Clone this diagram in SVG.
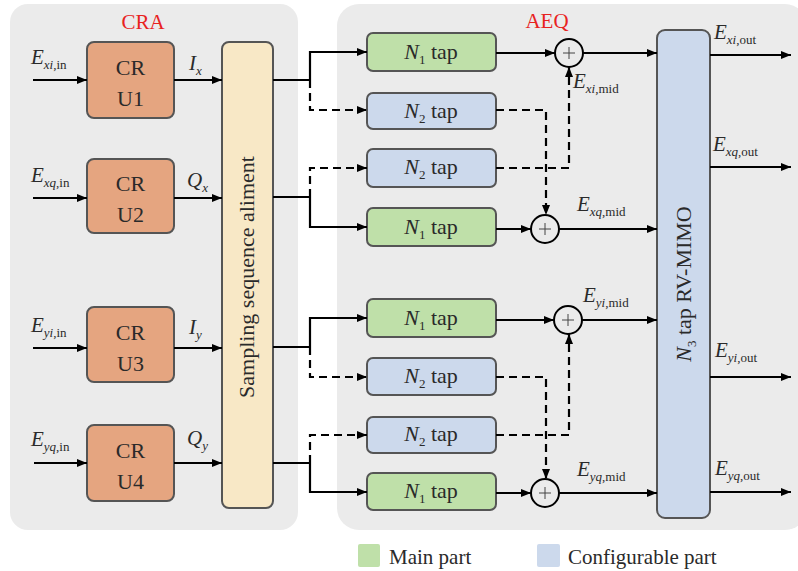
<svg xmlns="http://www.w3.org/2000/svg" width="798" height="571" viewBox="0 0 798 571" font-family="'Liberation Serif', 'Times New Roman', serif">
  <defs>
    <marker id="ah" viewBox="0 0 10 10" refX="10" refY="5" markerWidth="10" markerHeight="10" markerUnits="userSpaceOnUse" orient="auto">
      <path d="M0,1 L10,5 L0,9 z" fill="#000"/>
    </marker>
    <style>
      text, tspan { font-family: 'Liberation Serif', 'Times New Roman', serif; }
      text { fill: #2a2a2a; }
      .panel { fill: #ebebeb; }
      .cru { fill: #e5a580; stroke: #555; stroke-width: 2; }
      .samp { fill: #f8e8c6; stroke: #555; stroke-width: 2; }
      .main { fill: #bfe0a9; stroke: #555; stroke-width: 2; }
      .conf { fill: #ccd9ec; stroke: #555; stroke-width: 2; }
      .sum { fill: none; stroke: #000; stroke-width: 2; }
      .plus { stroke: #444; stroke-width: 1; }
      .ln { fill: none; stroke: #000; stroke-width: 2.2; }
      .arr { marker-end: url(#ah); }
      .dash { stroke-dasharray: 8 5; }
      .lbl { font-size: 22px; text-anchor: middle; }
      .it { font-style: italic; }
      .sub { font-size: 13px; }
      .var { font-size: 21px; }
      .title { font-size: 21px; fill: #e8231f; text-anchor: middle; }
    </style>
  </defs>

  <!-- panels -->
  <rect class="panel" x="10" y="4" width="288" height="526" rx="18"/>
  <rect class="panel" x="337" y="4" width="470" height="526" rx="22"/>
  <text class="title" x="143" y="29">CRA</text>
  <text class="title" x="547" y="28">AEQ</text>

  <!-- carrier recovery units -->
  <g id="cru1"><rect class="cru" x="87" y="42" width="87" height="76" rx="7"/><text class="lbl" x="130.5" y="75">CR</text><text class="lbl" x="130.5" y="106">U1</text></g>
  <g id="cru2"><rect class="cru" x="87" y="159" width="87" height="74" rx="7"/><text class="lbl" x="130.5" y="191">CR</text><text class="lbl" x="130.5" y="222">U2</text></g>
  <g id="cru3"><rect class="cru" x="87" y="307" width="87" height="75" rx="7"/><text class="lbl" x="130.5" y="340">CR</text><text class="lbl" x="130.5" y="371">U3</text></g>
  <g id="cru4"><rect class="cru" x="87" y="425" width="87" height="76" rx="7"/><text class="lbl" x="130.5" y="458">CR</text><text class="lbl" x="130.5" y="489">U4</text></g>

  <!-- sampling sequence alignment -->
  <g id="sampling"><rect class="samp" x="222" y="42" width="51" height="466" rx="7"/><text class="lbl" transform="translate(254,277) rotate(-90)">Sampling sequence aliment</text></g>

  <!-- tap filters -->
  <g id="n1-xi"><rect class="main" x="367" y="33" width="129" height="38" rx="6"/><text class="lbl" x="431" y="59"><tspan class="it">N</tspan><tspan class="sub" dy="5">1</tspan><tspan dy="-5"> tap</tspan></text></g>
  <g id="n2-xi"><rect class="conf" x="367" y="93" width="129" height="36" rx="6"/><text class="lbl" x="431" y="118"><tspan class="it">N</tspan><tspan class="sub" dy="5">2</tspan><tspan dy="-5"> tap</tspan></text></g>
  <g id="n2-xq"><rect class="conf" x="367" y="149" width="129" height="38" rx="6"/><text class="lbl" x="431" y="174"><tspan class="it">N</tspan><tspan class="sub" dy="5">2</tspan><tspan dy="-5"> tap</tspan></text></g>
  <g id="n1-xq"><rect class="main" x="367" y="208" width="129" height="38" rx="6"/><text class="lbl" x="431" y="234"><tspan class="it">N</tspan><tspan class="sub" dy="5">1</tspan><tspan dy="-5"> tap</tspan></text></g>
  <g id="n1-yi"><rect class="main" x="367" y="299" width="129" height="38" rx="6"/><text class="lbl" x="431" y="325"><tspan class="it">N</tspan><tspan class="sub" dy="5">1</tspan><tspan dy="-5"> tap</tspan></text></g>
  <g id="n2-yi"><rect class="conf" x="367" y="358" width="129" height="37" rx="6"/><text class="lbl" x="431" y="383"><tspan class="it">N</tspan><tspan class="sub" dy="5">2</tspan><tspan dy="-5"> tap</tspan></text></g>
  <g id="n2-yq"><rect class="conf" x="367" y="417" width="129" height="36" rx="6"/><text class="lbl" x="431" y="441"><tspan class="it">N</tspan><tspan class="sub" dy="5">2</tspan><tspan dy="-5"> tap</tspan></text></g>
  <g id="n1-yq"><rect class="main" x="367" y="473" width="129" height="37" rx="6"/><text class="lbl" x="431" y="498"><tspan class="it">N</tspan><tspan class="sub" dy="5">1</tspan><tspan dy="-5"> tap</tspan></text></g>

  <!-- adders -->
  <g id="sum-xi"><circle class="sum" cx="569" cy="53" r="14"/><path class="plus" d="M563,53 h12 M569,47 v12"/></g>
  <g id="sum-xq"><circle class="sum" cx="545" cy="229" r="14"/><path class="plus" d="M539,229 h12 M545,223 v12"/></g>
  <g id="sum-yi"><circle class="sum" cx="568" cy="320" r="14"/><path class="plus" d="M562,320 h12 M568,314 v12"/></g>
  <g id="sum-yq"><circle class="sum" cx="545" cy="493" r="14"/><path class="plus" d="M539,493 h12 M545,487 v12"/></g>

  <!-- 2x2 real-valued MIMO -->
  <g id="mimo"><rect class="conf" x="657" y="30" width="53" height="488" rx="8"/><text class="lbl" transform="translate(691,284) rotate(-90)"><tspan class="it">N</tspan><tspan class="sub" dy="5">3</tspan><tspan dy="-5"> tap RV-MIMO</tspan></text></g>

  <!-- connectors -->
  <g id="connectors">
    <!-- inputs -->
    <line class="ln arr" x1="33" y1="80" x2="87" y2="80"/>
    <line class="ln arr" x1="33" y1="198" x2="87" y2="198"/>
    <line class="ln arr" x1="33" y1="348" x2="87" y2="348"/>
    <line class="ln arr" x1="34" y1="463" x2="87" y2="463"/>
    <!-- CRU to sampling -->
    <line class="ln arr" x1="174" y1="80" x2="222" y2="80"/>
    <line class="ln arr" x1="174" y1="198" x2="222" y2="198"/>
    <line class="ln arr" x1="174" y1="348" x2="222" y2="348"/>
    <line class="ln arr" x1="174" y1="463" x2="222" y2="463"/>

    <!-- x-pol branches -->
    <polyline class="ln" points="273,80 310,80"/>
    <polyline class="ln arr" points="310,80 310,52 367,52"/>
    <polyline class="ln dash arr" points="310,80 310,110 367,110"/>
    <polyline class="ln" points="273,197 310,197"/>
    <polyline class="ln dash arr" points="310,197 310,168 367,168"/>
    <polyline class="ln arr" points="310,197 310,227 367,227"/>

    <!-- y-pol branches -->
    <polyline class="ln" points="273,347 310,347"/>
    <polyline class="ln arr" points="310,347 310,318 367,318"/>
    <polyline class="ln dash arr" points="310,347 310,377 367,377"/>
    <polyline class="ln" points="273,463 310,463"/>
    <polyline class="ln dash arr" points="310,463 310,435 367,435"/>
    <polyline class="ln arr" points="310,463 310,492 367,492"/>

    <!-- tap outputs into adders -->
    <line class="ln arr" x1="496" y1="53" x2="555" y2="53"/>
    <polyline class="ln dash arr" points="496,110 546,110 546,215"/>
    <polyline class="ln dash arr" points="496,168 569,168 569,67"/>
    <line class="ln arr" x1="496" y1="229" x2="531" y2="229"/>
    <line class="ln arr" x1="496" y1="320" x2="554" y2="320"/>
    <polyline class="ln dash arr" points="496,377 546,377 546,479"/>
    <polyline class="ln dash arr" points="496,435 569,435 569,334"/>
    <line class="ln arr" x1="496" y1="493" x2="531" y2="493"/>

    <!-- adders to MIMO -->
    <line class="ln arr" x1="583" y1="53" x2="657" y2="53"/>
    <line class="ln arr" x1="559" y1="229" x2="657" y2="229"/>
    <line class="ln arr" x1="582" y1="320" x2="657" y2="320"/>
    <line class="ln arr" x1="559" y1="493" x2="657" y2="493"/>

    <!-- outputs -->
    <line class="ln arr" x1="710" y1="55" x2="791" y2="55"/>
    <line class="ln arr" x1="710" y1="167" x2="791" y2="167"/>
    <line class="ln arr" x1="710" y1="377" x2="791" y2="377"/>
    <line class="ln arr" x1="710" y1="492" x2="791" y2="492"/>
  </g>

  <!-- signal labels -->
  <g id="labels">
    <text class="var" x="31" y="64"><tspan class="it">E</tspan><tspan class="sub" dy="5"><tspan class="it">xi</tspan>,in</tspan></text>
    <text class="var" x="31" y="182"><tspan class="it">E</tspan><tspan class="sub" dy="5"><tspan class="it">xq</tspan>,in</tspan></text>
    <text class="var" x="31" y="332"><tspan class="it">E</tspan><tspan class="sub" dy="5"><tspan class="it">yi</tspan>,in</tspan></text>
    <text class="var" x="31" y="446"><tspan class="it">E</tspan><tspan class="sub" dy="5"><tspan class="it">yq</tspan>,in</tspan></text>

    <text class="var" x="189" y="70"><tspan class="it">I</tspan><tspan class="sub it" dy="5">x</tspan></text>
    <text class="var" x="187" y="187"><tspan class="it">Q</tspan><tspan class="sub it" dy="5">x</tspan></text>
    <text class="var" x="189" y="334"><tspan class="it">I</tspan><tspan class="sub it" dy="5">y</tspan></text>
    <text class="var" x="187" y="445"><tspan class="it">Q</tspan><tspan class="sub it" dy="5">y</tspan></text>

    <text class="var" x="573" y="88"><tspan class="it">E</tspan><tspan class="sub" dy="5"><tspan class="it">xi</tspan>,mid</tspan></text>
    <text class="var" x="577" y="211"><tspan class="it">E</tspan><tspan class="sub" dy="5"><tspan class="it">xq</tspan>,mid</tspan></text>
    <text class="var" x="583" y="302"><tspan class="it">E</tspan><tspan class="sub" dy="5"><tspan class="it">yi</tspan>,mid</tspan></text>
    <text class="var" x="577" y="476"><tspan class="it">E</tspan><tspan class="sub" dy="5"><tspan class="it">yq</tspan>,mid</tspan></text>

    <text class="var" x="714" y="39"><tspan class="it">E</tspan><tspan class="sub" dy="5"><tspan class="it">xi</tspan>,out</tspan></text>
    <text class="var" x="713" y="151"><tspan class="it">E</tspan><tspan class="sub" dy="5"><tspan class="it">xq</tspan>,out</tspan></text>
    <text class="var" x="715" y="357"><tspan class="it">E</tspan><tspan class="sub" dy="5"><tspan class="it">yi</tspan>,out</tspan></text>
    <text class="var" x="715" y="475"><tspan class="it">E</tspan><tspan class="sub" dy="5"><tspan class="it">yq</tspan>,out</tspan></text>
  </g>

  <!-- legend -->
  <g id="legend">
    <rect x="358" y="544" width="22" height="23" rx="2" fill="#bfe0a9"/>
    <text x="389" y="564" font-size="21">Main part</text>
    <rect x="537" y="544" width="23" height="23" rx="2" fill="#ccd9ec"/>
    <text x="568" y="564" font-size="21">Configurable part</text>
  </g>
</svg>
